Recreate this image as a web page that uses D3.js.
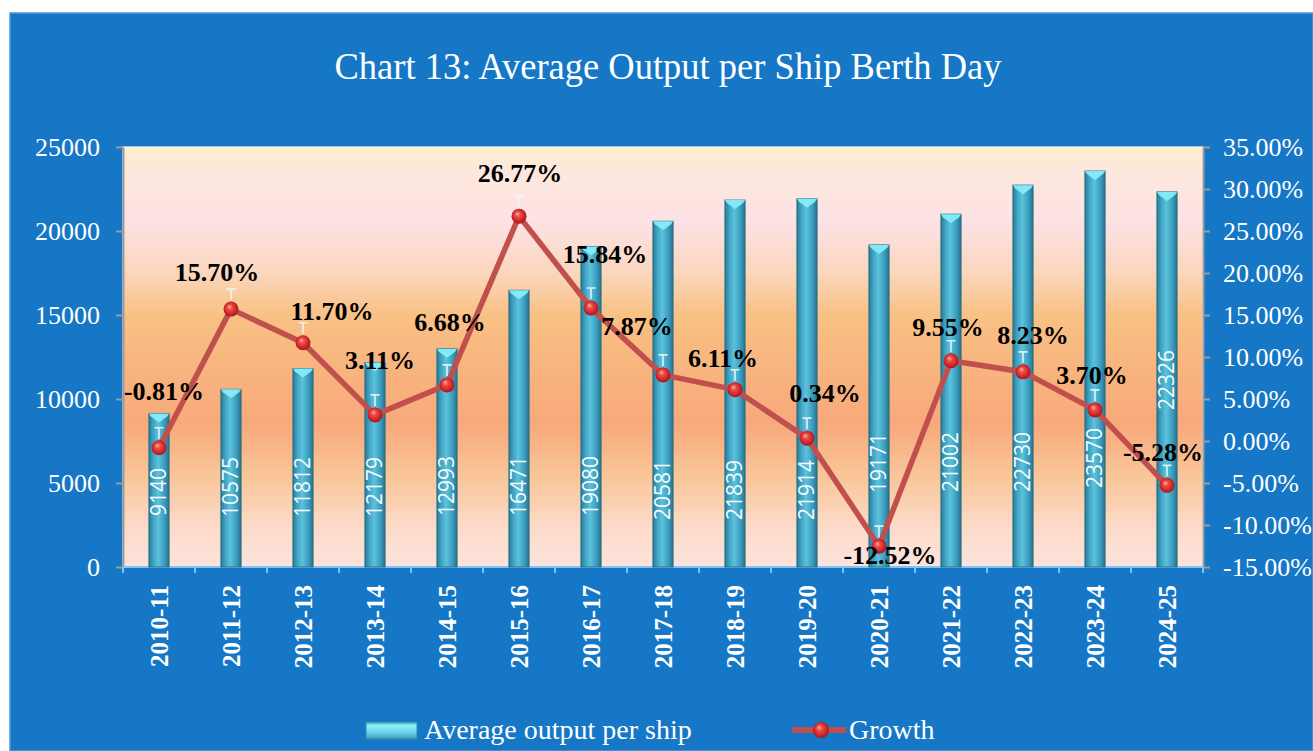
<!DOCTYPE html>
<html>
<head>
<meta charset="utf-8">
<script src="https://cdn.jsdelivr.net/npm/d3@7"></script>
<style>
  html, body { margin: 0; padding: 0; background: #fff; }
  svg { display: block; }
</style>
</head>
<body>
<div id="chart"></div>
<script>
const years = ['2010-11','2011-12','2012-13','2013-14','2014-15','2015-16','2016-17','2017-18',
               '2018-19','2019-20','2020-21','2021-22','2022-23','2023-24','2024-25'];
const output = [9140, 10575, 11812, 12179, 12993, 16471, 19080, 20581, 21839, 21914, 19171, 21002, 22730, 23570, 22326];
const growth = [-0.81, 15.70, 11.70, 3.11, 6.68, 26.77, 15.84, 7.87, 6.11, 0.34, -12.52, 9.55, 8.23, 3.70, -5.28];
const leftTicks = [0, 5000, 10000, 15000, 20000, 25000];
const rightTicks = [-15, -10, -5, 0, 5, 10, 15, 20, 25, 30, 35];
// label nudges (px) from each growth point, hand placed like the original
const labelNudge = [[5,-57],[-14,-37],[29,-32],[5,-55],[3,-63],[1,-43],[14,-54],[-26,-49],
                    [-12,-32],[18,-45],[11,9],[-3,-34],[10,-37],[-3,-35],[-4,-33]];
// where each bar's value label starts (px from top), they were dragged by hand in the source
const valueLabelBase = [516, 517, 517, 517, 516, 516, 516, 520, 520, 520, 493, 492, 492, 488, 410];

const W = 1313, H = 751;
const plot = { left: 123, top: 147, right: 1203, bottom: 567 };
const serif = '"Liberation Serif", "Times New Roman", serif';

const svg = d3.select('#chart').append('svg').attr('width', W).attr('height', H);
const defs = svg.append('defs');

const bg = defs.append('linearGradient').attr('id', 'plotbg').attr('x1', 0).attr('y1', 0).attr('x2', 0).attr('y2', 1);
[[0,'#fdeecb'],[0.05,'#fde8dc'],[0.18,'#fde2e5'],[0.30,'#fbd6bd'],[0.40,'#f9c184'],
 [0.55,'#f8b27e'],[0.66,'#f8a97b'],[0.78,'#f9c597'],[0.90,'#fcdac8'],[1,'#fde3de']]
  .forEach(([o,c]) => bg.append('stop').attr('offset', o).attr('stop-color', c));

const barG = defs.append('linearGradient').attr('id', 'bar').attr('x1', 0).attr('y1', 0).attr('x2', 1).attr('y2', 0);
[[0,'#2a7890'],[0.18,'#3a9ebf'],[0.45,'#5ec2db'],[0.62,'#49b1cf'],[0.85,'#3590b0'],[1,'#286e86']]
  .forEach(([o,c]) => barG.append('stop').attr('offset', o).attr('stop-color', c));

const legG = defs.append('linearGradient').attr('id', 'legbar').attr('x1', 0).attr('y1', 0).attr('x2', 0).attr('y2', 1);
[[0,'#3a9fba'],[0.2,'#8aeefc'],[0.6,'#6fd6ea'],[1,'#3a9ab8']]
  .forEach(([o,c]) => legG.append('stop').attr('offset', o).attr('stop-color', c));

const ball = defs.append('radialGradient').attr('id', 'ball').attr('fx', 0.38).attr('fy', 0.32).attr('r', 0.6);
[[0,'#ffb0a8'],[0.3,'#ee4a44'],[0.75,'#c01e24'],[1,'#7e1414']]
  .forEach(([o,c]) => ball.append('stop').attr('offset', o).attr('stop-color', c));

// blue panel
svg.append('rect').attr('x', 10).attr('y', 13).attr('width', W - 10).attr('height', H - 13)
  .attr('fill', '#1677c6').attr('stroke', '#4f98da').attr('stroke-width', 1.5);

svg.append('text').attr('x', 668).attr('y', 79).attr('text-anchor', 'middle')
  .attr('font-family', serif).attr('font-size', 38).attr('fill', '#fff')
  .attr('textLength', 667).attr('lengthAdjust', 'spacingAndGlyphs')
  .text('Chart 13: Average Output per Ship Berth Day');

// plot background
svg.append('rect').attr('x', plot.left).attr('y', plot.top)
  .attr('width', plot.right - plot.left).attr('height', plot.bottom - plot.top)
  .attr('fill', 'url(#plotbg)').attr('stroke', 'rgba(255,255,255,0.55)').attr('stroke-width', 2);

const x = d3.scaleBand().domain(years).range([plot.left, plot.right]);
const y = d3.scaleLinear().domain([0, 25000]).range([plot.bottom, plot.top]);
const y2 = d3.scaleLinear().domain([-15, 35]).range([plot.bottom, plot.top]);
const bw = x.bandwidth() * 0.28;

// axes
const axL = svg.append('g').attr('transform', `translate(${plot.left},0)`)
  .call(d3.axisLeft(y).tickValues(leftTicks).tickSize(7).tickPadding(16).tickSizeOuter(0)
    .tickFormat(d3.format('d')));
const axR = svg.append('g').attr('transform', `translate(${plot.right},0)`)
  .call(d3.axisRight(y2).tickValues(rightTicks).tickSize(7).tickPadding(13).tickSizeOuter(0)
    .tickFormat(d => d.toFixed(2) + '%'));
[axL, axR].forEach(a => {
  a.selectAll('.domain').attr('stroke', '#9b9b9b').attr('stroke-width', 2);
  a.selectAll('.tick line').attr('stroke', '#9b9b9b').attr('stroke-width', 2);
  a.selectAll('.tick text').attr('fill', '#fff').attr('font-family', serif).attr('font-size', 26);
});

// x axis: line along bottom, ticks on band edges
const axB = svg.append('g').attr('transform', `translate(0,${plot.bottom})`);
axB.append('line').attr('x1', plot.left).attr('x2', plot.right).attr('stroke', '#7fc3f0').attr('stroke-width', 2);
axB.selectAll('line.edge').data(years.concat(['end'])).join('line').attr('class', 'edge')
  .attr('x1', (d, i) => plot.left + i * x.step()).attr('x2', (d, i) => plot.left + i * x.step())
  .attr('y1', 0).attr('y2', 6).attr('stroke', '#7fc3f0').attr('stroke-width', 2);
axB.selectAll('text').data(years).join('text')
  .attr('transform', d => `translate(${x(d) + x.bandwidth() / 2 + 9},18) rotate(-90)`)
  .attr('text-anchor', 'end').attr('font-family', serif).attr('font-weight', 'bold')
  .attr('font-size', 25).attr('fill', '#fff').text(d => d);

// bars
const bars = svg.append('g').selectAll('g').data(years).join('g');
bars.append('rect')
  .attr('x', d => x(d) + x.bandwidth() / 2 - bw / 2).attr('width', bw)
  .attr('y', (d, i) => y(output[i])).attr('height', (d, i) => y(0) - y(output[i]))
  .attr('fill', 'url(#bar)').attr('stroke', '#2a7288').attr('stroke-width', 1);
bars.append('path')
  .attr('d', (d, i) => {
    const c = x(d) + x.bandwidth() / 2, t = y(output[i]), h = bw / 2;
    return `M${c - h},${t}L${c + h},${t}L${c + h - 2},${t + 3}L${c},${t + 9}L${c - h + 2},${t + 3}Z`;
  })
  .attr('fill', '#86ecfa').attr('opacity', 0.95);
bars.append('text')
  .attr('transform', (d, i) => `translate(${x(d) + x.bandwidth() / 2 + 7},${valueLabelBase[i]}) rotate(-90)`)
  .attr('text-anchor', 'start').attr('font-family', '"Open Sans", "Noto Sans", sans-serif')
  .attr('font-size', 21).attr('fill', '#f4fbff').text((d, i) => output[i]);

// growth line
const cx = d => x(d) + x.bandwidth() / 2;
const line = d3.line().x((d, i) => cx(years[i])).y(d => y2(d));
svg.append('path').datum(growth).attr('d', line).attr('fill', 'none')
  .attr('stroke', '#c0504d').attr('stroke-width', 5.5).attr('stroke-linejoin', 'round');

const pts = svg.append('g').selectAll('g').data(growth).join('g')
  .attr('transform', (d, i) => `translate(${cx(years[i])},${y2(d)})`);
pts.append('path').attr('d', 'M0,-9V-20M-4.5,-20H4.5')
  .attr('stroke', 'rgba(235,248,250,0.9)').attr('stroke-width', 1.6).attr('fill', 'none');
pts.append('circle').attr('r', 7.5).attr('fill', 'url(#ball)');

svg.append('g').selectAll('text').data(growth).join('text')
  .attr('x', (d, i) => cx(years[i]) + labelNudge[i][0])
  .attr('y', (d, i) => y2(d) + labelNudge[i][1] + 9)
  .attr('text-anchor', 'middle').attr('font-family', serif).attr('font-weight', 'bold')
  .attr('font-size', 26).attr('fill', '#000').text(d => d.toFixed(2) + '%');

// legend
const leg = svg.append('g');
leg.append('rect').attr('x', 366).attr('y', 722).attr('width', 51).attr('height', 17)
  .attr('fill', 'url(#legbar)').attr('stroke', '#2f8aa6').attr('stroke-width', 1);
leg.append('text').attr('x', 424).attr('y', 739).attr('font-family', serif).attr('font-size', 28)
  .attr('fill', '#fff').text('Average output per ship');
leg.append('line').attr('x1', 792).attr('x2', 846).attr('y1', 730).attr('y2', 730)
  .attr('stroke', '#c0504d').attr('stroke-width', 6);
leg.append('circle').attr('cx', 821).attr('cy', 730).attr('r', 8).attr('fill', 'url(#ball)');
leg.append('text').attr('x', 849).attr('y', 739).attr('font-family', serif).attr('font-size', 28)
  .attr('fill', '#fff').text('Growth');
</script>
</body>
</html>
